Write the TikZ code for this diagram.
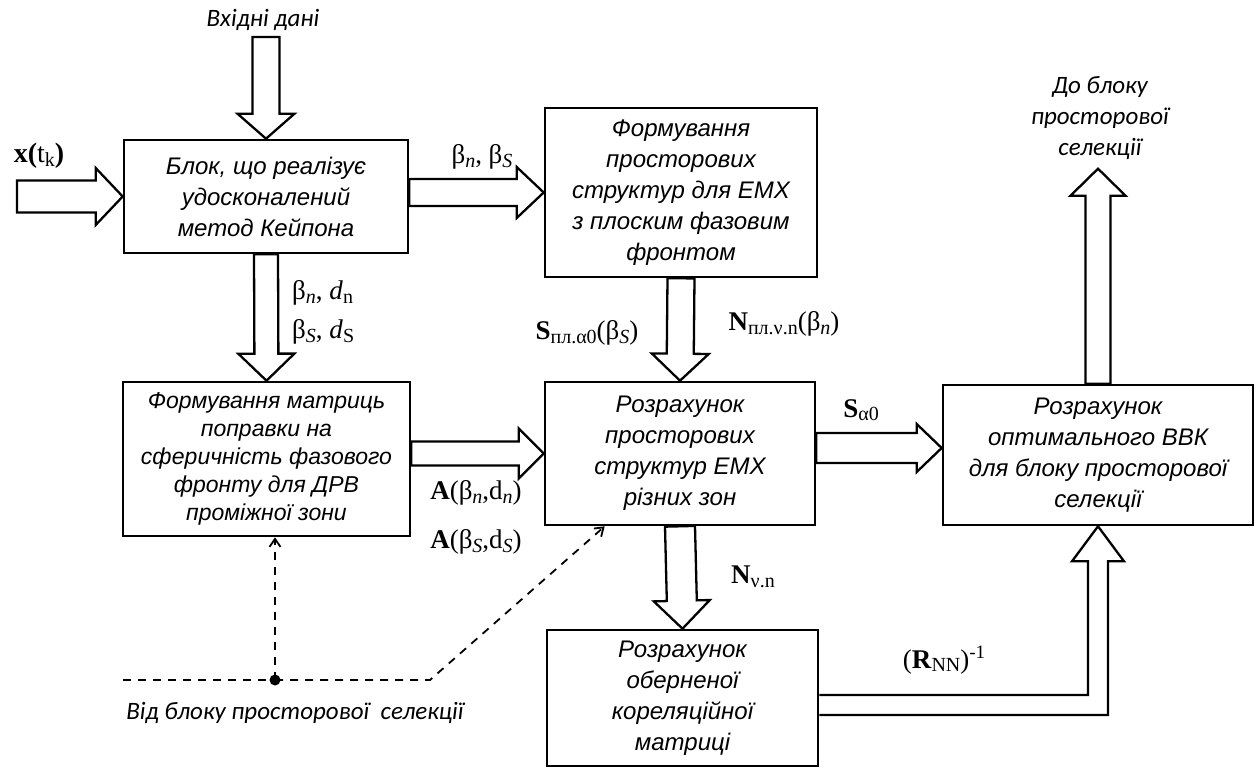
\documentclass[tikz,border=0pt]{standalone}
\usepackage{fontspec}
\usetikzlibrary{calc,arrows.meta}
\newfontfamily\boxfont{Liberation Sans}
\newfontfamily\seriffont{Liberation Serif}
\newfontfamily\notefont{Carlito}

% lowered subscript and raised superscript for the signal labels
\newcommand\lsub[1]{\raisebox{-3.5pt}{\fontsize{20}{20}\selectfont #1}}
\newcommand\lsup[1]{\raisebox{10pt}{\fontsize{19}{19}\selectfont #1}}

\tikzset{
  blk/.style={draw, line width=2.6pt, inner sep=0pt, align=center,
    font=\boxfont\itshape\fontsize{24}{31}\selectfont},
  hollow/.style={draw, line width=2.3pt, line join=miter},
  lab/.style={inner sep=0pt, font=\seriffont\fontsize{27}{30}\selectfont},
  note/.style={inner sep=0pt, align=center,
    font=\notefont\itshape\fontsize{25}{31}\selectfont},
  fb/.style={draw, line width=1.8pt, dash pattern=on 8pt off 7pt},
  barb/.style={-{Straight Barb[length=8pt,width=11pt]}},
}

% hollow block arrow: start, tip, shaft half-width, head half-width, head length
\newcommand\hollowarrow[5]{%
  \path #1 coordinate (ha) #2 coordinate (hb);
  \coordinate (hc) at ($(hb)!#5!(ha)$);
  \draw[hollow] ($(ha)!#3!90:(hb)$) -- ($(hc)!#3!90:(hb)$) -- ($(hc)!#4!90:(hb)$)
    -- (hb) -- ($(hc)!#4!-90:(hb)$) -- ($(hc)!#3!-90:(hb)$) -- ($(ha)!#3!-90:(hb)$) -- cycle;
}

\begin{document}
\begin{tikzpicture}[x=1pt, y=-1pt]
\useasboundingbox (0,0) rectangle (1256,770);

% processing blocks
\node[blk, minimum width=284pt, minimum height=113pt] (b1) at (266,196.5)
  {Блок, що реалізує\\удосконалений\\метод  Кейпона};
\node[blk, minimum width=272pt, minimum height=169pt] (b2) at (681,192.5)
  {Формування\\просторових\\структур  для ЕМХ\\з плоским  фазовим\\фронтом};
\node[blk, minimum width=287pt, minimum height=154pt,
  font=\boxfont\itshape\fontsize{23}{28}\selectfont] (b3) at (266.5,459)
  {Формування матриць\\поправки на\\сферичність фазового\\фронту для ДРВ\\проміжної зони};
\node[blk, minimum width=270pt, minimum height=143pt] (b4) at (680,453.5)
  {Розрахунок\\просторових\\структур  ЕМХ\\різних  зон};
\node[blk, minimum width=310pt, minimum height=140pt] (b5) at (1098,455)
  {Розрахунок\\оптимального  ВВК\\для блоку  просторової\\селекції};
\node[blk, minimum width=271pt, minimum height=136pt] (b6) at (682.5,698)
  {Розрахунок\\оберненої\\кореляційної\\матриці};

% free ends of the input and output arrows
\coordinate (inTop) at (266,37);
\coordinate (xin) at (17,196.5);
\coordinate (outTop) at ($(b5.north)+(0,-215)$);
\coordinate (s0) at ($(b5.west)+(0,-7)$);

% hollow arrows
\hollowarrow{(inTop)}{(b1.north)}{13.5pt}{28.5pt}{25pt}
\hollowarrow{(xin)}{(b1.west)}{16pt}{28.5pt}{27pt}
\hollowarrow{(b1.east |- b2.west)}{(b2.west)}{13.5pt}{25.5pt}{27pt}
\hollowarrow{(b1.south)}{(b3.north)}{12pt}{28pt}{27pt}
\hollowarrow{(b2.south)}{(b4.north)}{13.5pt}{28.5pt}{27pt}
\hollowarrow{(b3.east |- b4.west)}{(b4.west)}{12pt}{25pt}{25pt}
\hollowarrow{(b4.east |- s0)}{(s0)}{15pt}{24pt}{25pt}
\hollowarrow{(b5.north)}{(outTop)}{12.5pt}{27.5pt}{27pt}
\hollowarrow{(b4.south)}{(b6.north)}{15pt}{28pt}{28pt}

% bent arrow from the inverse correlation block
\coordinate (lc) at ($(b5.south |- b6.east)+(0,7)$);
\draw[hollow] ($(b6.east |- lc)+(0,-10)$) -- ($(lc)+(-10,-10)$) -- ($(b5.south)+(-10,35)$)
  -- ($(b5.south)+(-26,35)$) -- (b5.south) -- ($(b5.south)+(26,35)$)
  -- ($(b5.south)+(10,35)$) -- ($(lc)+(10,10)$) -- ($(b6.east |- lc)+(0,10)$);

% dashed feedback lines
\coordinate (fl) at (123,680);
\node[circle, fill, inner sep=0pt, minimum size=11pt] (jn) at (275,680) {};
\coordinate (fk) at (430,680);
\draw[fb] (fl) -- (jn.center);
\draw[fb, barb] (jn.center) -- (fk) -- ($(b4.south west)+(61,0)$);
\draw[fb, barb] (jn.center) -- (jn |- b3.south);

% signal labels
\node[lab, font=\seriffont\fontsize{28}{30}\selectfont] (lx) at (39,156)
  {\textbf{x(}t\lsub{k}\textbf{)}};
\node[lab] (l1) at (482,157) {β\lsub{\textit{n}}, β\lsub{\textit{S}}};
\node[lab, anchor=west] (l2) at (292,293) {β\lsub{\textit{n}}, \textit{d}\lsub{n}};
\node[lab, anchor=west] (l3) at (292,332) {β\lsub{\textit{S}}, \textit{d}\lsub{S}};
\node[lab] (l4) at (587,333) {\textbf{S}\lsub{пл.α0}(β\lsub{\textit{S}})};
\node[lab] (l5) at (784,324) {\textbf{N}\lsub{пл.ν.n}(β\lsub{\textit{n}})};
\node[lab] (l6) at (476,493) {\textbf{A}(β\lsub{\textit{n}},d\lsub{\textit{n}})};
\node[lab] (l7) at (476,542) {\textbf{A}(β\lsub{\textit{S}},d\lsub{\textit{S}})};
\node[lab] (l8) at (861,410) {\textbf{S}\lsub{α0}};
\node[lab] (l9) at (753,577) {\textbf{N}\lsub{ν.n}};
\node[lab] (l10) at (944,660) {(\textbf{R}\lsub{NN})\lsup{-1}};

% notes
\node[note] (n1) at (263,20) {Вхідні дані};
\node[note] (n2) at (1100,118) {До блоку\\просторової\\селекції};
\node[note] (n3) at (295,713) {Від блоку  просторової~ селекції};
\end{tikzpicture}
\end{document}
